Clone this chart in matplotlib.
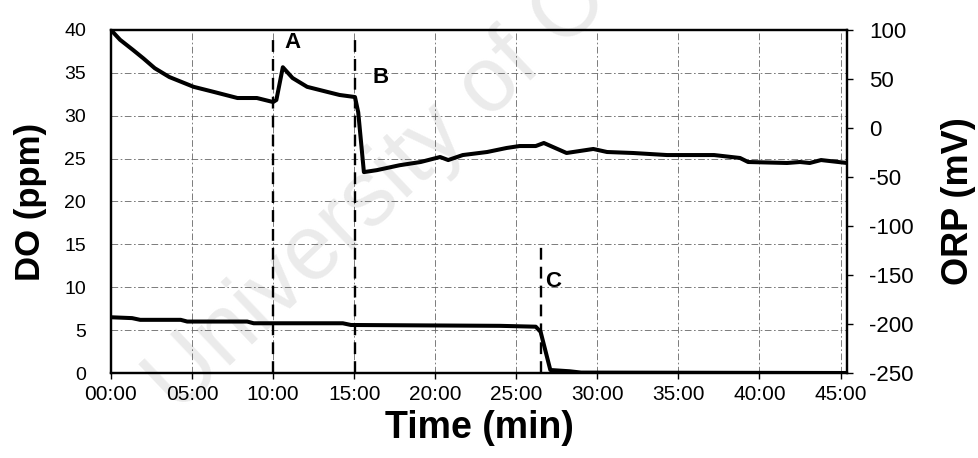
import matplotlib
matplotlib.use("Agg")
import matplotlib.pyplot as plt
from matplotlib.ticker import FixedLocator, FuncFormatter

# ORP trace (right axis), time in minutes
orp_time = [0, 0.56, 1.36, 2.0, 2.7, 3.6, 5.1, 6.3, 7.8, 9.0, 10.0, 10.2,
            10.6, 11.2, 12.1, 13.3, 14.1, 15.05, 15.25, 15.6, 16.4, 17.8,
            19.1, 20.3, 20.8, 21.7, 23.2, 24.4, 25.2, 26.2, 26.7, 28.1,
            29.75, 30.6, 32.2, 34.3, 37.2, 38.8, 39.3, 41.7, 42.5, 43.1,
            43.8, 45.4]
orp_mv = [100, 90, 79.6, 71, 61, 52, 42, 37, 30.6, 30.6, 26.5, 28.6,
          62, 51, 42, 37, 33.7, 31.6, 16, -45, -43, -38,
          -34.7, -29.6, -32.7, -27.6, -24.5, -20.4, -18.4, -18.4, -15.3, -25.5,
          -21.4, -24.5, -25.5, -27.6, -27.6, -30.6, -34.7, -35.7, -34.7, -35.7,
          -32.7, -35.7]

# DO trace (left axis)
do_time = [0, 1.3, 1.8, 4.3, 4.7, 8.4, 8.8, 14.3, 14.8, 24.0, 26.2, 26.5,
           27.1, 28.3, 29.0, 45.4]
do_ppm = [6.5, 6.4, 6.2, 6.2, 6.0, 6.0, 5.8, 5.8, 5.6, 5.5, 5.4, 4.8,
          0.35, 0.2, 0.05, 0.0]

# event markers: time, top of line (ppm), label position
event_names = ["A", "B", "C"]
event_time = [10.0, 15.05, 26.5]
event_top = [39.6, 39.6, 14.9]
label_time = [11.2, 16.6, 27.3]
label_ppm = [38.6, 34.5, 10.7]

time_ticks = list(range(0, 50, 5))
do_ticks = list(range(0, 45, 5))
orp_ticks = list(range(-250, 150, 50))


def main() -> None:
    plt.rcParams["font.family"] = ["Liberation Sans", "DejaVu Sans"]
    plt.rcParams["axes.unicode_minus"] = False

    fig = plt.figure(figsize=(9.79, 4.58), dpi=100)
    ax = fig.add_axes([111 / 979, 85 / 458, 736 / 979, 343 / 458])
    ax2 = ax.twinx()

    ax.set_xlim(0, 45.4)
    ax.set_ylim(0, 40)
    ax2.set_ylim(-250, 100)

    ax.set_axisbelow(True)
    ax.grid(True, color="0.4", lw=0.6, linestyle=(0, (8, 3, 2, 3)))

    # watermark
    ax.text(161 / 979, 1 - 398 / 458, "University of C",
            transform=fig.transFigure, fontsize=66, color="#ebebeb",
            rotation=43.5, rotation_mode="anchor", ha="left", va="center",
            zorder=0.5, clip_on=False)

    ax.plot(do_time, do_ppm, color="black", lw=2.9, zorder=3,
            solid_joinstyle="round")
    ax2.plot(orp_time, orp_mv, color="black", lw=2.9, zorder=3,
             solid_joinstyle="round")

    for name, t, top, lt, lp in zip(event_names, event_time, event_top,
                                    label_time, label_ppm):
        ax.plot([t, t], [0, top], color="black", lw=1.7,
                linestyle=(0, (5, 3)), zorder=2)
        ax.text(lt, lp, name, fontsize=16, fontweight="bold",
                ha="center", va="center", zorder=4)

    ax.xaxis.set_major_locator(FixedLocator(time_ticks))
    ax.xaxis.set_major_formatter(FuncFormatter(lambda v, p: f"{int(v):02d}:00"))
    ax.yaxis.set_major_locator(FixedLocator(do_ticks))
    ax2.yaxis.set_major_locator(FixedLocator(orp_ticks))

    ax.tick_params(axis="x", length=4, width=1, direction="out", pad=5,
                   labelsize=15)
    ax.tick_params(axis="y", length=0, pad=18, labelsize=14)
    ax2.tick_params(axis="y", length=4, width=1, direction="out", pad=12,
                    labelsize=16)

    for spine in list(ax.spines.values()) + list(ax2.spines.values()):
        spine.set_linewidth(1.6)
        spine.set_color("black")

    ax.set_xlabel("Time (min)", fontsize=27, fontweight="bold", labelpad=4)
    ax.set_ylabel("DO (ppm)", fontsize=25, fontweight="bold", labelpad=12)
    ax2.set_ylabel("ORP (mV)", fontsize=26, fontweight="bold")
    ax2.yaxis.set_label_coords(1.128, 0.5)

    fig.savefig("out.png", dpi=100)
    plt.close(fig)


if __name__ == "__main__":
    main()
